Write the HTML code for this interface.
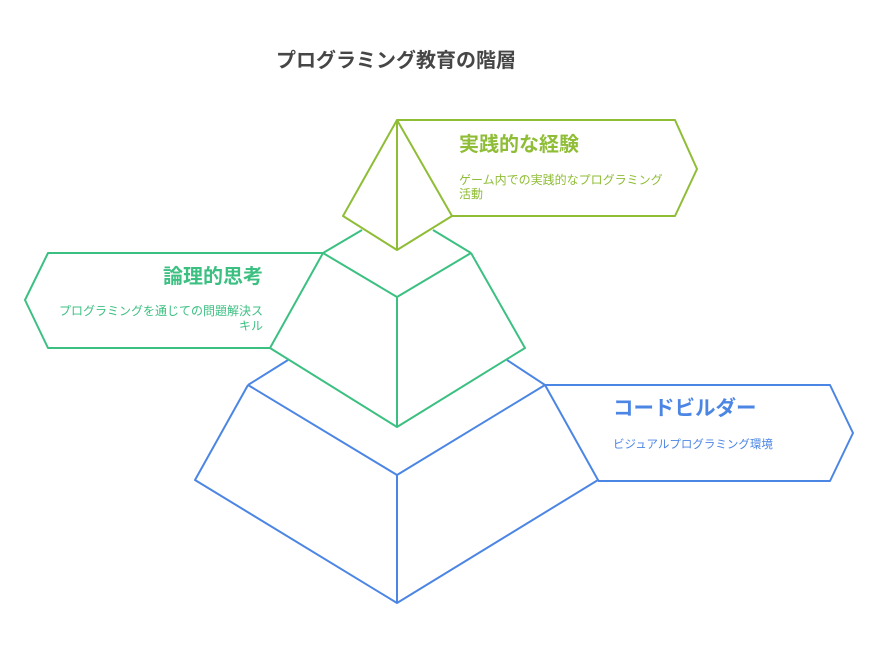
<!DOCTYPE html>
<html><head><meta charset="utf-8"><style>
body{margin:0;background:#fff;}
svg text{font-family:"Liberation Sans","Noto Sans CJK JP",sans-serif;}
</style></head><body>
<svg width="878" height="653" viewBox="0 0 878 653" xmlns="http://www.w3.org/2000/svg" fill="none" stroke-width="2" stroke-linejoin="round">
<text x="276" y="67" font-size="20" font-weight="bold" fill="#464646" stroke="none">プログラミング教育の階層</text>
<g stroke="#4c86e4">
<path d="M288 360 L248 385 M507 360 L545 385"/>
<path d="M248 385 L397 475 L545 385 M248 385 L195 480 L397 603 L598 480 L545 385 M397 475 L397 603"/>
<path d="M545 385 L830 385 L853 433 L830 481 L598 481"/>
</g>
<text x="613" y="415" font-size="20.5" font-weight="bold" fill="#4c86e4">コードビルダー</text>
<text x="613" y="448" font-size="11.5" fill="#4c86e4">ビジュアルプログラミング環境</text>
<g stroke="#3cc082">
<path d="M362 230 L323 253 M433 230 L471 253"/>
<path d="M323 253 L397 297 L471 253 M323 253 L270 348 L397 427 L525 348 L471 253 M397 297 L397 427"/>
<path d="M323 253 L48 253 L25 300 L48 348 L270 348"/>
</g>
<text x="263" y="283" font-size="20" font-weight="bold" fill="#3cc082" text-anchor="end">論理的思考</text>
<text x="263" y="315" font-size="12" fill="#3cc082" text-anchor="end">プログラミングを通じての問題解決ス</text>
<text x="263" y="330" font-size="12" fill="#3cc082" text-anchor="end">キル</text>
<g stroke="#8fbd36">
<path d="M397 120 L343 216 L397 250 L452 216 Z M397 120 L397 250"/>
<path d="M397 120 L675 120 L697 169 L675 216 L452 216"/>
</g>
<text x="459" y="151" font-size="20" font-weight="bold" fill="#8fbd36">実践的な経験</text>
<text x="459" y="184" font-size="12" fill="#8fbd36">ゲーム内での実践的なプログラミング</text>
<text x="459" y="198" font-size="12" fill="#8fbd36">活動</text>
</svg>
</body></html>
